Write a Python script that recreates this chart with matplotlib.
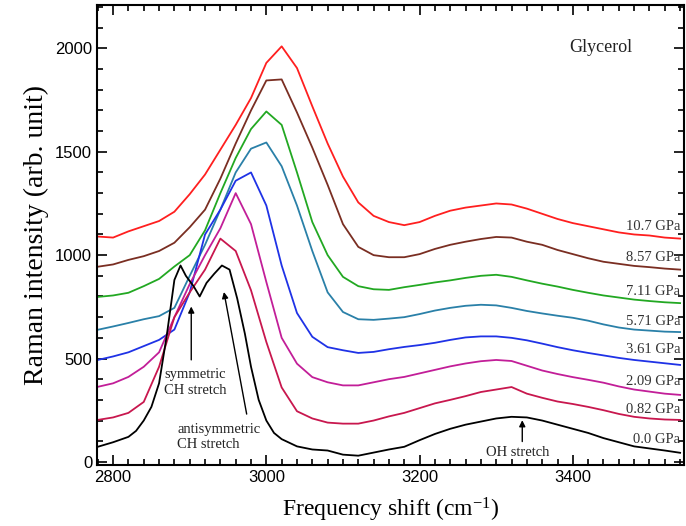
import matplotlib
matplotlib.use("Agg")
import matplotlib.pyplot as plt
from matplotlib.ticker import MultipleLocator

plt.rcParams["mathtext.fontset"] = "custom"
plt.rcParams["mathtext.rm"] = "Liberation Serif"
plt.rcParams["mathtext.it"] = "Liberation Serif:italic"

# Raman spectra of glycerol at different pressures
freq = [2780, 2800, 2820, 2840, 2860, 2880, 2900, 2920, 2940, 2960,
        2980, 3000, 3020, 3040, 3060, 3080, 3100, 3120, 3140, 3160,
        3180, 3200, 3220, 3240, 3260, 3280, 3300, 3320, 3340, 3360,
        3380, 3400, 3420, 3440, 3460, 3480, 3500, 3520, 3540]

i_10_7 = [1090, 1085, 1115, 1140, 1165, 1210, 1295, 1390, 1510, 1630,
          1760, 1930, 2010, 1905, 1720, 1540, 1380, 1255, 1190, 1160,
          1145, 1160, 1190, 1215, 1230, 1240, 1250, 1245, 1225, 1200,
          1175, 1155, 1140, 1125, 1110, 1100, 1095, 1085, 1080]
i_8_57 = [944, 955, 977, 995, 1020, 1060, 1135, 1220, 1370, 1540,
          1700, 1845, 1850, 1690, 1520, 1340, 1150, 1040, 1000, 990,
          990, 1005, 1030, 1050, 1065, 1078, 1088, 1085, 1065, 1050,
          1025, 1005, 985, 968, 958, 948, 942, 935, 930]
i_7_11 = [798, 805, 818, 850, 885, 945, 1000, 1120, 1300, 1470,
          1610, 1695, 1630, 1400, 1160, 1000, 895, 850, 835, 832,
          845, 856, 868, 878, 890, 900, 905, 895, 878, 862,
          848, 832, 818, 805, 795, 785, 778, 772, 768]
i_5_71 = [639, 655, 672, 690, 705, 745, 900, 1050, 1220, 1400,
          1515, 1545, 1430, 1240, 1020, 820, 725, 690, 687, 693,
          700, 715, 732, 745, 755, 760, 757, 745, 730, 718,
          707, 697, 683, 665, 650, 640, 635, 630, 628]
i_3_61 = [493, 510, 530, 560, 590, 640, 820, 1100, 1220, 1360,
          1400, 1240, 950, 720, 605, 555, 540, 527, 532, 545,
          556, 565, 576, 590, 602, 607, 607, 600, 588, 572,
          555, 540, 527, 515, 503, 493, 485, 477, 469]
i_2_09 = [363, 380, 411, 460, 530, 700, 860, 1000, 1130, 1300,
          1150, 870, 600, 475, 410, 385, 370, 370, 385, 400,
          411, 428, 445, 462, 476, 487, 493, 488, 465, 442,
          425, 410, 397, 383, 365, 350, 340, 330, 324]
i_0_82 = [203, 215, 237, 290, 460, 700, 820, 930, 1080, 1020,
          830, 580, 360, 245, 210, 190, 185, 185, 200, 220,
          237, 260, 283, 300, 318, 338, 350, 362, 330, 310,
          292, 280, 266, 250, 232, 218, 210, 205, 203]

# ambient pressure spectrum has the double CH peak, read on a finer grid
freq_0 = [2780, 2800, 2820, 2830, 2840, 2850, 2860, 2870, 2880, 2888,
          2895, 2905, 2913, 2922, 2932, 2942, 2952, 2962, 2972, 2980,
          2990, 3000, 3010, 3020, 3040, 3060, 3080, 3100, 3120, 3140,
          3160, 3180, 3200, 3220, 3240, 3260, 3280, 3300, 3320, 3340,
          3360, 3380, 3400, 3420, 3440, 3460, 3480, 3500, 3520, 3540]
i_0_0 = [73, 95, 121, 150, 200, 266, 380, 610, 880, 950,
         900, 850, 800, 866, 910, 950, 930, 790, 620, 460,
         300, 200, 140, 110, 75, 60, 55, 35, 30, 45,
         60, 73, 105, 135, 160, 180, 195, 210, 218, 215,
         200, 180, 160, 140, 115, 95, 75, 65, 55, 44]

labels = ["10.7 GPa", "8.57 GPa", "7.11 GPa", "5.71 GPa",
          "3.61 GPa", "2.09 GPa", "0.82 GPa", "0.0 GPa"]
label_y = [1137, 987, 822, 677, 542, 387, 252, 106]
colors = ["#ff1f1f", "#7a2e22", "#22a822", "#2a80a8",
          "#1f32e6", "#c21e98", "#c8174e", "black"]

fig = plt.figure(figsize=(6.86, 5.26), dpi=100)
ax = fig.add_axes([0.1414, 0.116, 0.8556, 0.8745])

spectra = [i_10_7, i_8_57, i_7_11, i_5_71, i_3_61, i_2_09, i_0_82]
for ys, c in zip(spectra, colors):
    ax.plot(freq, ys, color=c, lw=1.3)
ax.plot(freq_0, i_0_0, color=colors[-1], lw=1.3)

for lab, y in zip(labels, label_y):
    ax.text(3540, y, lab, ha="right", va="center", fontsize=10.5,
            family="Liberation Serif", color="#333333")

ax.text(3436, 2003, "Glycerol", ha="center", va="center", fontsize=13,
        family="Liberation Serif", color="#222222")

arr = dict(arrowstyle="-|>", color="black", lw=1.0, mutation_scale=9)
ax.annotate("", xy=(2902, 765), xytext=(2902, 480), arrowprops=arr)
ax.text(2907, 385, "symmetric\nCH stretch", ha="center", va="center",
        fontsize=10.5, family="Liberation Serif", linespacing=1.3,
        color="#222222")
ax.annotate("", xy=(2944, 835), xytext=(2975, 218), arrowprops=arr)
ax.text(2884, 120, "antisymmetric\nCH stretch", ha="left", va="center",
        fontsize=10.5, family="Liberation Serif", linespacing=1.2,
        color="#222222")
ax.annotate("", xy=(3334, 215), xytext=(3334, 85), arrowprops=arr)
ax.text(3328, 46, "OH stretch", ha="center", va="center", fontsize=10.5,
        family="Liberation Serif", color="#222222")

ax.set_xlim(2779, 3545)
ax.set_ylim(-15, 2210)
ax.xaxis.set_major_locator(MultipleLocator(200))
ax.xaxis.set_minor_locator(MultipleLocator(20))
ax.yaxis.set_major_locator(MultipleLocator(500))
ax.yaxis.set_minor_locator(MultipleLocator(100))
ax.tick_params(which="both", direction="in", top=True, right=True,
               width=1.2)
ax.tick_params(which="major", length=7, labelsize=12)
ax.tick_params(which="minor", length=4)
for t in ax.get_xticklabels() + ax.get_yticklabels():
    t.set_family("Liberation Sans")
for s in ax.spines.values():
    s.set_linewidth(1.5)

ax.set_xlabel("Frequency shift (cm$^{-1}$)", fontsize=17,
              family="Liberation Serif", labelpad=8)
ax.set_ylabel("Raman intensity (arb. unit)", fontsize=20,
              family="Liberation Serif", labelpad=4)

fig.savefig("out.png", dpi=100)
